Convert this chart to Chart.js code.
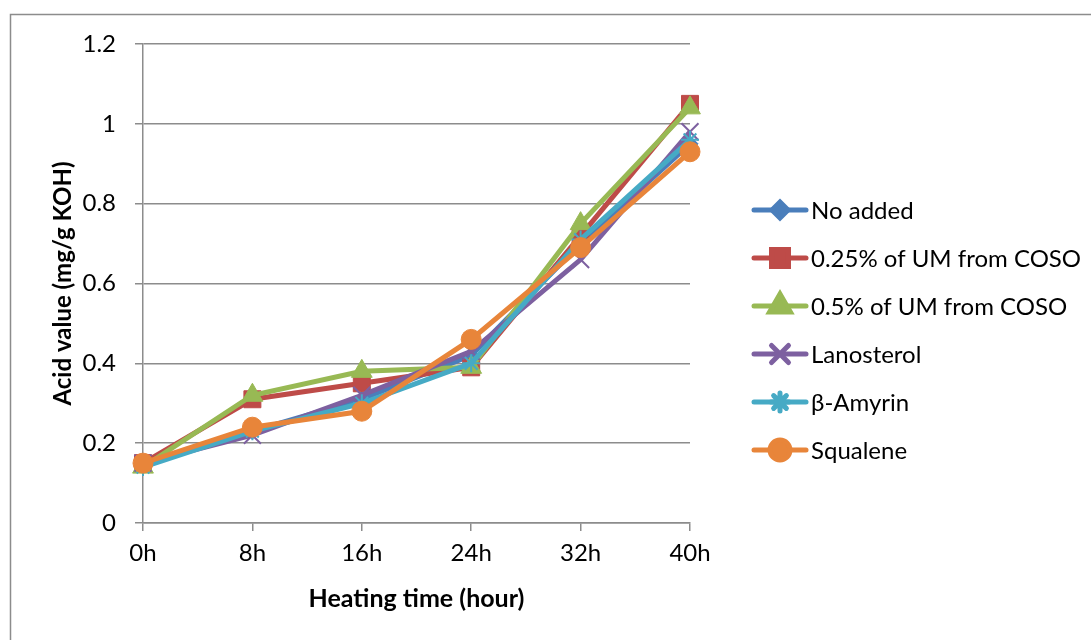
<!DOCTYPE html>
<html>
<head>
<meta charset="utf-8">
<script src="https://cdn.jsdelivr.net/npm/chart.js@4/dist/chart.umd.min.js"></script>
<style>
  html, body { margin: 0; padding: 0; background: #fff; }
  #wrap { width: 1091px; height: 640px; }
</style>
</head>
<body>
<div id="wrap"><canvas id="acidChart" width="1091" height="640"></canvas></div>
<script>
const hours = ["0h", "8h", "16h", "24h", "32h", "40h"];

const noAdded     = [0.15, 0.23, 0.31, 0.42, 0.70, 0.95];
const um025       = [0.15, 0.31, 0.35, 0.39, 0.72, 1.05];
const um05        = [0.14, 0.32, 0.38, 0.39, 0.75, 1.04];
const lanosterol  = [0.15, 0.22, 0.32, 0.43, 0.66, 0.98];
const betaAmyrin  = [0.14, 0.23, 0.30, 0.40, 0.71, 0.96];
const squalene    = [0.15, 0.24, 0.28, 0.46, 0.69, 0.93];

const seriesNames = ["No added", "0.25% of UM from COSO", "0.5% of UM from COSO", "Lanosterol", "\u03b2-Amyrin", "Squalene"];
const seriesData = [noAdded, um025, um05, lanosterol, betaAmyrin, squalene];
const colors = ["#4A7EBB", "#BE4B48", "#98B954", "#7D60A0", "#46AAC5", "#E8853A"];
const markers = ["rectRot", "rect", "triangle", "crossRot", "star", "circle"];
const markerSize = [8, 12, 12, 12, 9, 10];

const FONT = "Lato, 'Liberation Sans', sans-serif";
const gridGray = "#8c8c8c";

const datasets = seriesData.map((d, i) => ({
  label: seriesNames[i],
  data: d,
  borderColor: colors[i],
  backgroundColor: colors[i],
  pointBackgroundColor: colors[i],
  pointBorderColor: colors[i],
  borderWidth: 5,
  pointStyle: markers[i],
  pointRadius: markerSize[i],
  pointBorderWidth: (markers[i] === "crossRot" || markers[i] === "star") ? 2 : 1,
  tension: 0,
  order: seriesData.length - i // later series drawn on top
}));

// outer frame + Excel-like legend on the right
const frameAndLegend = {
  id: "frameAndLegend",
  beforeDraw(chart) {
    const ctx = chart.ctx;
    ctx.save();
    ctx.fillStyle = "#fff";
    ctx.fillRect(0, 0, chart.width, chart.height);
    ctx.strokeStyle = "#8c8c8c";
    ctx.lineWidth = 1.5;
    ctx.strokeRect(10.5, 14.5, chart.width + 20, chart.height + 20);
    ctx.restore();
  },
  afterDraw(chart) {
    const ctx = chart.ctx;
    ctx.save();
    chart.data.datasets.forEach((ds, i) => {
      const y = 210 + i * 48;
      ctx.strokeStyle = ds.borderColor;
      ctx.lineWidth = 5;
      ctx.lineCap = "round";
      ctx.beginPath();
      ctx.moveTo(754, y);
      ctx.lineTo(806, y);
      ctx.stroke();
      ctx.fillStyle = ds.pointBackgroundColor;
      ctx.strokeStyle = ds.pointBorderColor;
      Chart.helpers.drawPoint(ctx, {
        pointStyle: ds.pointStyle,
        radius: ds.pointRadius,
        rotation: 0,
        borderWidth: ds.pointBorderWidth
      }, 780, y);
      ctx.fillStyle = "#000";
      ctx.font = "24px " + FONT;
      ctx.textAlign = "left";
      ctx.textBaseline = "middle";
      ctx.fillText(ds.label, 811, y + 1);
    });
    ctx.restore();
  }
};

new Chart(document.getElementById("acidChart"), {
  type: "line",
  data: { labels: hours, datasets: datasets },
  options: {
    responsive: false,
    animation: false,
    layout: { padding: { top: 44, right: 401, bottom: 0, left: 0 } },
    plugins: {
      legend: { display: false },
      tooltip: { enabled: false }
    },
    scales: {
      x: {
        offset: false,
        grid: { drawOnChartArea: false, color: gridGray, lineWidth: 1.5, tickLength: 8 },
        border: { color: gridGray, width: 1.5 },
        ticks: { color: "#000", font: { family: FONT, size: 24 }, padding: 8, maxRotation: 0 },
        title: {
          display: true,
          text: "Heating time (hour)",
          color: "#000",
          font: { family: FONT, size: 25, weight: "bold" },
          padding: { top: 0, bottom: 26 }
        },
        afterFit(scale) { scale.height = 117; }
      },
      y: {
        min: 0,
        max: 1.2,
        grid: { color: gridGray, lineWidth: 1.5, tickLength: 8 },
        border: { color: gridGray, width: 1.5 },
        ticks: {
          stepSize: 0.2,
          color: "#000",
          font: { family: FONT, size: 24 },
          padding: 19,
          callback: v => Number(v.toFixed(1)).toString()
        },
        title: {
          display: true,
          text: "Acid value (mg/g KOH)",
          color: "#000",
          font: { family: FONT, size: 24, weight: "bold" },
          padding: { top: 49, bottom: 0 }
        },
        afterFit(scale) { scale.width = 143; }
      }
    }
  },
  plugins: [frameAndLegend]
});
</script>
</body>
</html>
